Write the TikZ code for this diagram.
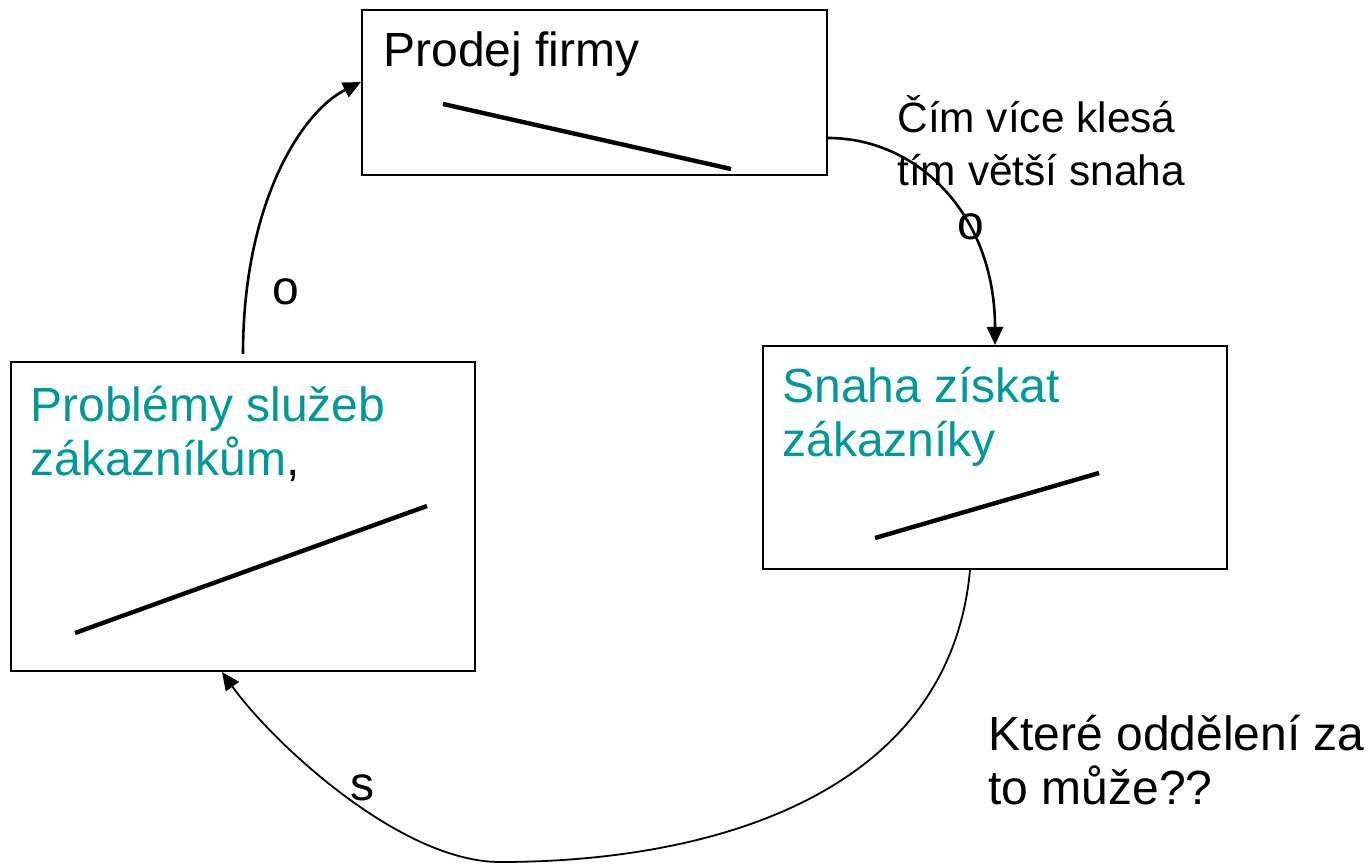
\documentclass[tikz,border=0pt]{standalone}
\usepackage{fontspec}
\setmainfont{Liberation Sans}
\usetikzlibrary{arrows.meta}
\definecolor{tyrkys}{HTML}{009999}

\begin{document}
\begin{tikzpicture}[x=0.5pt,y=-0.5pt,
  box/.style={draw, line width=1pt, inner sep=0pt},
  popis/.style={anchor=base west, inner sep=0pt, align=left, font=\fontsize{24}{27}\selectfont},
  trend/.style={line width=2.2pt},
  spoj/.style={line width=1.3pt, -{Triangle[length=9pt,width=8pt]}}]

\useasboundingbox (0,0) rectangle (1371,865);

 \node[box, minimum width=232.5pt, minimum height=82.5pt] (firma) at (594.5,92.5) {};
 \node[box, minimum width=232pt, minimum height=111.5pt] (snaha) at (995,457.5) {};
 \node[box, minimum width=232pt, minimum height=154.5pt] (problemy) at (243,516.5) {};

 % base = posledni radek
 \node[popis] (tfirma) at (383,67) {Prodej firmy};
 \node[popis, text=tyrkys] (tsnaha) at (782,457) {Snaha získat\\zákazníky};
 \node[popis, text=tyrkys] (tproblemy) at (30,476) {Problémy služeb\\zákazníkům\textcolor{black}{,}};
 \node[popis, font=\fontsize{21.2}{26.5}\selectfont] (tklesa) at (897,186) {Čím více klesá\\tím větší snaha};
 \node[popis] (tktere) at (988,804) {Které oddělení za\\to může??};

 \node[popis] (o1) at (272,305) {o};
 \node[popis] (o2) at (957,240) {o};
 \node[popis] (s1) at (350,800) {s};

 % trendy v boxech
 \draw[trend] (443,104) -- (731,169);
 \draw[trend] (875,538) -- (1099,473);
 \draw[trend] (75,633) -- (427,506);

 % smycka
 \draw[spoj] ([yshift=3.5pt]problemy.north) .. controls +(0,-150) and +(-60,30) .. ([yshift=5.25pt]firma.west);
 \draw[spoj] ([yshift=-22.75pt]firma.east) .. controls +(90,0) and +(0,-130) .. (snaha.north);
 \coordinate (dno) at (500,862);
 \draw[spoj, line width=0.9pt] ([xshift=-12.5pt]snaha.south) .. controls +(-20,220) and +(220,0) .. (dno)
      .. controls +(-100,0) and +(50,70) .. ([xshift=-10.5pt]problemy.south);

\end{tikzpicture}
\end{document}
